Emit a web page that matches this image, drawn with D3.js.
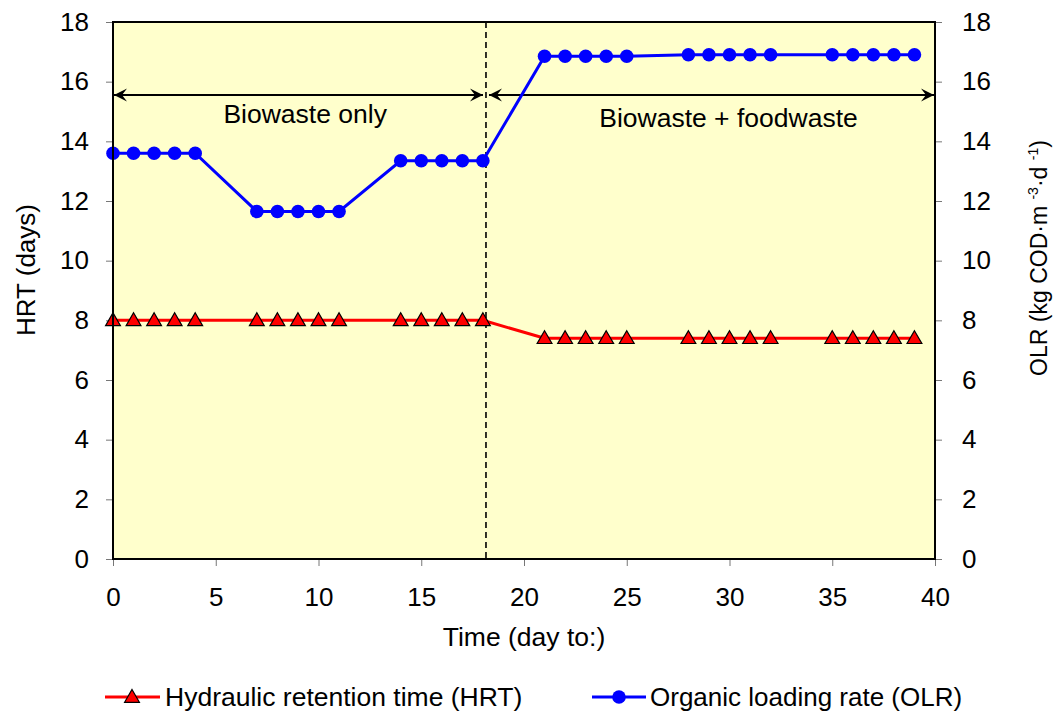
<!DOCTYPE html>
<html><head><meta charset="utf-8">
<script src="https://cdn.jsdelivr.net/npm/d3@7"></script>
<style>body{margin:0;background:#fff;} svg{display:block;} text{font-family:"Liberation Sans",Arial,sans-serif;fill:#000;}</style>
</head><body>
<svg id="chart" width="1054" height="712"></svg>
<script>
const days = [0,1,2,3,4,7,8,9,10,11,14,15,16,17,18,21,22,23,24,25,28,29,30,31,32,35,36,37,38,39];
const hrtValues = [8,8,8,8,8,8,8,8,8,8,8,8,8,8,8,7.4,7.4,7.4,7.4,7.4,7.4,7.4,7.4,7.4,7.4,7.4,7.4,7.4,7.4,7.4];
const olrValues = [13.6,13.6,13.6,13.6,13.6,11.65,11.65,11.65,11.65,11.65,13.35,13.35,13.35,13.35,13.35,16.85,16.85,16.85,16.85,16.85,16.9,16.9,16.9,16.9,16.9,16.9,16.9,16.9,16.9,16.9];
const xTicks = [0,5,10,15,20,25,30,35,40];
const yTicks = [0,2,4,6,8,10,12,14,16,18];
const phaseChange = 18.15;
const arrowLevel = 15.55;
const phaseLabels = ["Biowaste only","Biowaste + foodwaste"];
const seriesNames = ["Hydraulic retention time (HRT)","Organic loading rate (OLR)"];

const svg = d3.select("#chart");
const L=113, R=935, T=22, B=559;
const x = d3.scaleLinear().domain([0,40]).range([L,R]);
const yL = d3.scaleLinear().domain([0,18]).range([B,T]);
const yR = d3.scaleLinear().domain([0,18]).range([B,T]);

svg.append("rect").attr("x",L).attr("y",T).attr("width",R-L).attr("height",B-T).attr("fill","#FFFFCC");

// axes
const ax = svg.append("g").attr("transform",`translate(0,${B})`).call(d3.axisBottom(x).tickValues(xTicks).tickSize(7).tickPadding(22));
const ayl = svg.append("g").attr("transform",`translate(${L},0)`).call(d3.axisLeft(yL).tickValues(yTicks).tickSize(7).tickPadding(17));
const ayr = svg.append("g").attr("transform",`translate(${R},0)`).call(d3.axisRight(yR).tickValues(yTicks).tickSize(7).tickPadding(20));
[ax,ayl,ayr].forEach(g=>{g.select(".domain").remove();g.selectAll(".tick line").attr("stroke","#777").attr("stroke-width",1);g.selectAll(".tick text").style("font-size","26px").attr("fill","#000");});

// dashed phase line
svg.append("line").attr("x1",x(phaseChange)).attr("x2",x(phaseChange)).attr("y1",T).attr("y2",B).attr("stroke","#000").attr("stroke-width",1.6).attr("stroke-dasharray","6,4");

// arrows
const defs = svg.append("defs");
defs.append("marker").attr("id","ah").attr("viewBox","-14 -8 16 16").attr("refX",0).attr("refY",0).attr("markerWidth",16).attr("markerHeight",16).attr("markerUnits","userSpaceOnUse").attr("orient","auto-start-reverse")
  .append("path").attr("d","M0,0 L-13,-6.5 L-8,0 L-13,6.5 Z").attr("fill","#000");
const ay = yL(arrowLevel);
svg.append("line").attr("x1",x(0)+1).attr("x2",x(phaseChange)-3).attr("y1",ay).attr("y2",ay).attr("stroke","#000").attr("stroke-width",2).attr("marker-start","url(#ah)").attr("marker-end","url(#ah)");
svg.append("line").attr("x1",x(phaseChange)+3).attr("x2",x(40)-1).attr("y1",ay).attr("y2",ay).attr("stroke","#000").attr("stroke-width",2).attr("marker-start","url(#ah)").attr("marker-end","url(#ah)");
svg.append("text").attr("x",x(9.35)).attr("y",ay+28).attr("text-anchor","middle").style("font-size","26.5px").text(phaseLabels[0]);
svg.append("text").attr("x",x(29.95)).attr("y",ay+32).attr("text-anchor","middle").style("font-size","26.5px").text(phaseLabels[1]);

// lines
const hrtData = days.map((d,i)=>[d,hrtValues[i]]);
const olrData = days.map((d,i)=>[d,olrValues[i]]);
svg.append("path").datum(hrtData).attr("fill","none").attr("stroke","#FF0000").attr("stroke-width",3).attr("d",d3.line().x(d=>x(d[0])).y(d=>yL(d[1])));
svg.append("path").datum(olrData).attr("fill","none").attr("stroke","#0000FF").attr("stroke-width",3).attr("d",d3.line().x(d=>x(d[0])).y(d=>yR(d[1])));
const tri = d3.symbol().type(d3.symbolTriangle).size(95);
svg.selectAll(".tri").data(hrtData).join("path").attr("class","tri").attr("d",tri).attr("transform",d=>`translate(${x(d[0])},${yL(d[1])+1})`).attr("fill","#FF0000").attr("stroke","#000").attr("stroke-width",1.2);
svg.selectAll(".dot").data(olrData).join("circle").attr("class","dot").attr("cx",d=>x(d[0])).attr("cy",d=>yR(d[1])).attr("r",6.8).attr("fill","#0000FF");

// frame
svg.append("rect").attr("x",L).attr("y",T).attr("width",R-L).attr("height",B-T).attr("fill","none").attr("stroke","#000").attr("stroke-width",2);

// axis titles
svg.append("text").attr("x",(L+R)/2).attr("y",646).attr("text-anchor","middle").style("font-size","26.5px").text("Time (day to:)");
svg.append("text").attr("transform","translate(35,270) rotate(-90)").attr("text-anchor","middle").style("font-size","26px").text("HRT (days)");
const rt = svg.append("text").attr("transform","translate(1047,258) rotate(-90)").attr("text-anchor","middle").style("font-size","23px");
rt.append("tspan").text("OLR (kg COD·m ");
rt.append("tspan").attr("dy",-9).style("font-size","14px").text("-3");
rt.append("tspan").attr("dy",9).text("·d ");
rt.append("tspan").attr("dy",-9).style("font-size","14px").text("-1");
rt.append("tspan").attr("dy",9).text(")");

// legend
const ly = 697;
svg.append("line").attr("x1",105).attr("x2",160).attr("y1",ly).attr("y2",ly).attr("stroke","#FF0000").attr("stroke-width",3);
svg.append("path").attr("d",tri).attr("transform",`translate(132,${ly+1})`).attr("fill","#FF0000").attr("stroke","#000").attr("stroke-width",1.2);
svg.append("text").attr("x",165).attr("y",ly+9).style("font-size","26.5px").text(seriesNames[0]);
svg.append("line").attr("x1",592).attr("x2",646).attr("y1",ly).attr("y2",ly).attr("stroke","#0000FF").attr("stroke-width",3);
svg.append("circle").attr("cx",619).attr("cy",ly).attr("r",6.8).attr("fill","#0000FF");
svg.append("text").attr("x",650).attr("y",ly+9).style("font-size","26px").text(seriesNames[1]);
</script>
</body></html>
